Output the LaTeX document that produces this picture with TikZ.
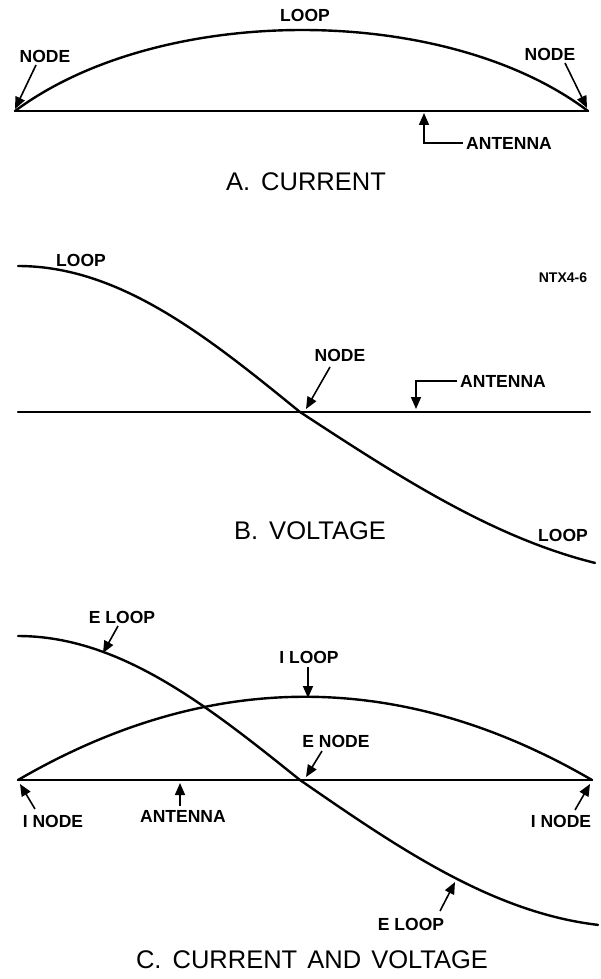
\documentclass[tikz,border=0pt]{standalone}
\usepackage{fontspec}
\setmainfont{Liberation Sans}
\usetikzlibrary{arrows.meta}
\tikzset{
  curve/.style={line width=2.4pt, line cap=round, line join=round},
  antline/.style={line width=2.3pt, line cap=round},
  arr/.style={line width=1.6pt, -{Triangle[length=12pt,width=10pt]}},
  lbl/.style={font=\bfseries\fontsize{17.5}{17.5}\selectfont, inner sep=0pt},
  tagtxt/.style={font=\bfseries\fontsize{14}{14}\selectfont, inner sep=0pt},
  captxt/.style={font=\fontsize{25.5}{25.5}\selectfont, inner sep=0pt}
}
\begin{document}
\begin{tikzpicture}[x=1pt,y=-1pt]
\useasboundingbox (0,0) rectangle (600,979);

% ---------------- Panel A ----------------
\coordinate (aL) at (15,111);
\coordinate (aR) at (588,111);
\draw[antline] (aL) -- (aR);
\draw[curve] (aL) .. controls (160,3) and (445,3) .. (aR);
\node[lbl] (loopA) at (305,15) {LOOP};
\node[lbl] (nodeAL) at (45,56) {NODE};
\node[lbl] (nodeAR) at (550,54) {NODE};
\coordinate (tAL0) at (36,65);
\coordinate (tAL) at (15,109);
\coordinate (tAR0) at (565,63);
\coordinate (tAR) at (587,108);
\draw[arr] (tAL0) -- (tAL);
\draw[arr] (tAR0) -- (tAR);
\node[lbl] (antA) at (509,143) {ANTENNA};
\coordinate (tAnt) at (424,113);
\draw[arr] ([xshift=-3pt]antA.west) -| (tAnt);
\node[captxt] (capA) at (306,182) {A.\hspace{4pt} CURRENT};

% ---------------- Panel B ----------------
\coordinate (bL) at (18,412);
\coordinate (bR) at (590,412);
\draw[antline] (bL) -- (bR);
\draw[curve]
  plot[domain=18:300, samples=60, smooth, variable=\x]
    (\x, {412-146*sin(((300-\x)/282)*90)})
  -- plot[domain=300:595, samples=60, smooth, variable=\x]
    (\x, {412+163*sin(((\x-300)/295)*67.8)});
\node[lbl] (loopB1) at (81,260) {LOOP};
\node[tagtxt] (ntx) at (563,278) {NTX4-6};
\node[lbl] (nodeB) at (340,355) {NODE};
\coordinate (tB0) at (330,367);
\coordinate (tB) at (306,409);
\draw[arr] (tB0) -- (tB);
\node[lbl] (antB) at (503,381) {ANTENNA};
\coordinate (tBant) at (416,409);
\draw[arr] ([xshift=-3pt]antB.west) -| (tBant);
\node[lbl] (loopB2) at (563,535) {LOOP};
\node[captxt] (capB) at (310,531) {B.\hspace{4pt} VOLTAGE};

% ---------------- Panel C ----------------
\coordinate (cL) at (18,780);
\coordinate (cR) at (592,780);
\draw[antline] (cL) -- (cR);
\draw[curve] (cL) .. controls (209,669) and (401,669) .. (cR);
\draw[curve]
  plot[domain=18:300, samples=60, smooth, variable=\x]
    (\x, {780-144*sin(((300-\x)/282)*90)})
  -- plot[domain=300:598, samples=60, smooth, variable=\x]
    (\x, {780+147*sin(((\x-300)/297)*80)});
\node[lbl] (eloop1) at (122,617) {E LOOP};
\coordinate (tC10) at (118,626);
\coordinate (tC1) at (103,653);
\draw[arr] (tC10) -- (tC1);
\node[lbl] (iloop) at (309,657) {I LOOP};
\coordinate (tC20) at (308,667);
\coordinate (tC2) at (308,698);
\draw[arr] (tC20) -- (tC2);
\node[lbl] (enode) at (336,741) {E NODE};
\coordinate (tC30) at (322,751);
\coordinate (tC3) at (306,777);
\draw[arr] (tC30) -- (tC3);
\node[lbl] (inodeL) at (53,821) {I NODE};
\coordinate (tC40) at (35,809);
\coordinate (tC4) at (20,784);
\draw[arr] (tC40) -- (tC4);
\node[lbl] (antC) at (183,816) {ANTENNA};
\coordinate (tC50) at (180,806);
\coordinate (tC5) at (180,783);
\draw[arr] (tC50) -- (tC5);
\node[lbl] (inodeR) at (561,821) {I NODE};
\coordinate (tC60) at (575,810);
\coordinate (tC6) at (590,784);
\draw[arr] (tC60) -- (tC6);
\node[lbl] (eloop2) at (411,924) {E LOOP};
\coordinate (tC70) at (440,911);
\coordinate (tC7) at (455,882);
\draw[arr] (tC70) -- (tC7);
\node[captxt] (capC) at (312,960) {C.\hspace{4pt} CURRENT\hspace{3pt} AND\hspace{3pt} VOLTAGE};
\end{tikzpicture}
\end{document}
